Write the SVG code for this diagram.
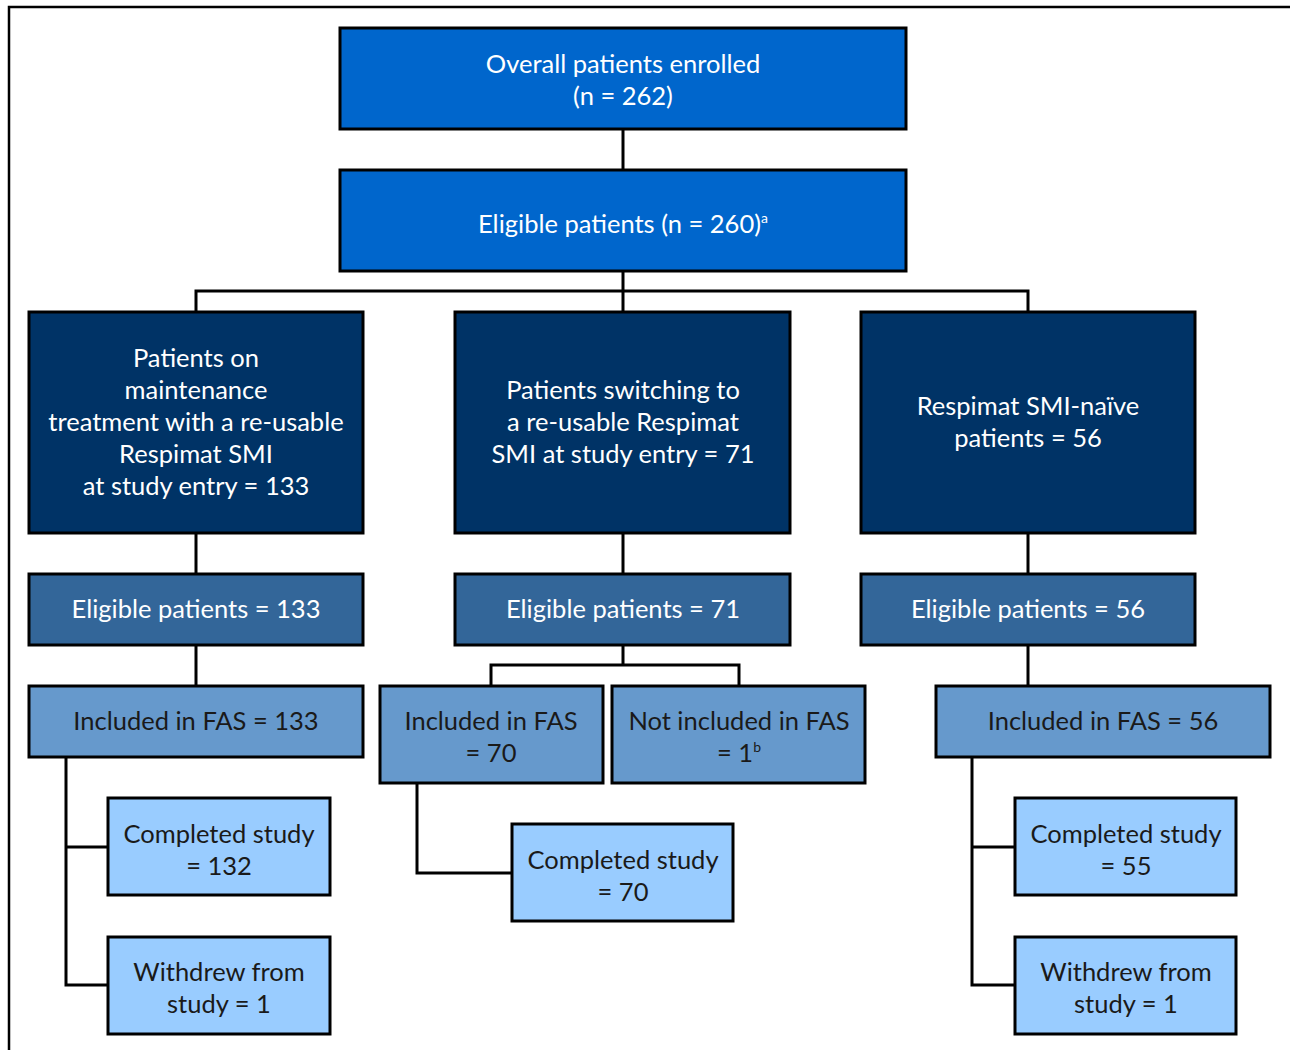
<svg xmlns="http://www.w3.org/2000/svg" width="1290" height="1050" viewBox="0 0 1290 1050">
<style>
rect.n{stroke:#000;stroke-width:3}
.c1{fill:#0066cc}.c2{fill:#003366}.c3{fill:#336699}.c4{fill:#6699cc}.c5{fill:#99ccff}
text{font-family:Lato,"Open Sans","Liberation Sans",sans-serif;font-size:25.5px;text-anchor:middle}
.w{fill:#ffffff}.k{fill:#1a1a1a}
#connectors path{fill:none;stroke:#000;stroke-width:3}
</style>
<rect x="0" y="0" width="1290" height="1050" fill="#fff"/>
<path d="M9,1050 V7 H1290" fill="none" stroke="#000" stroke-width="2.5"/>
<g id="connectors">
<path d="M623,129 V170"/>
<path d="M623,271 V312 M196,312 V291 H1028 V312"/>
<path d="M196,533 V574 M623,533 V574 M1028,533 V574"/>
<path d="M196,645 V686 M1028,645 V686"/>
<path d="M623,645 V665 M491,686 V665 H739 V686"/>
<path d="M66,757 V985 H108 M66,847 H108"/>
<path d="M417,783 V873 H512"/>
<path d="M972,757 V985 H1015 M972,847 H1015"/>
</g>
<g id="overall"><rect class="n c1" x="340" y="28" width="566" height="101"/>
<text class="w" x="623" y="73">Overall patients enrolled</text><text class="w" x="623" y="105">(n = 262)</text></g>
<g id="eligible260"><rect class="n c1" x="340" y="170" width="566" height="101"/>
<text class="w" x="623" y="233">Eligible patients (n = 260)<tspan font-size="14" dy="-10">a</tspan></text></g>
<g id="maintenance"><rect class="n c2" x="29" y="312" width="334" height="221"/>
<text class="w" x="196" y="367">Patients on</text><text class="w" x="196" y="399">maintenance</text><text class="w" x="196" y="431">treatment with a re-usable</text><text class="w" x="196" y="463">Respimat SMI</text><text class="w" x="196" y="495">at study entry = 133</text></g>
<g id="switching"><rect class="n c2" x="455" y="312" width="335" height="221"/>
<text class="w" x="623" y="399">Patients switching to</text><text class="w" x="623" y="431">a re-usable Respimat</text><text class="w" x="623" y="463">SMI at study entry = 71</text></g>
<g id="naive"><rect class="n c2" x="861" y="312" width="334" height="221"/>
<text class="w" x="1028" y="415">Respimat SMI-naïve</text><text class="w" x="1028" y="447">patients = 56</text></g>
<g id="elig133"><rect class="n c3" x="29" y="574" width="334" height="71"/><text class="w" x="196" y="618">Eligible patients = 133</text></g>
<g id="elig71"><rect class="n c3" x="455" y="574" width="335" height="71"/><text class="w" x="623" y="618">Eligible patients = 71</text></g>
<g id="elig56"><rect class="n c3" x="861" y="574" width="334" height="71"/><text class="w" x="1028" y="618">Eligible patients = 56</text></g>
<g id="fas133"><rect class="n c4" x="29" y="686" width="334" height="71"/><text class="k" x="196" y="730">Included in FAS = 133</text></g>
<g id="fas70"><rect class="n c4" x="380" y="686" width="223" height="97"/><text class="k" x="491" y="730">Included in FAS</text><text class="k" x="491" y="762">= 70</text></g>
<g id="notfas"><rect class="n c4" x="612" y="686" width="253" height="97"/><text class="k" x="739" y="730">Not included in FAS</text><text class="k" x="739" y="762">= 1<tspan font-size="14" dy="-10">b</tspan></text></g>
<g id="fas56"><rect class="n c4" x="936" y="686" width="334" height="71"/><text class="k" x="1103" y="730">Included in FAS = 56</text></g>
<g id="comp132"><rect class="n c5" x="108" y="798" width="222" height="97"/><text class="k" x="219" y="843">Completed study</text><text class="k" x="219" y="875">= 132</text></g>
<g id="wd1left"><rect class="n c5" x="108" y="937" width="222" height="97"/><text class="k" x="219" y="981">Withdrew from</text><text class="k" x="219" y="1013">study = 1</text></g>
<g id="comp70"><rect class="n c5" x="512" y="824" width="221" height="97"/><text class="k" x="623" y="869">Completed study</text><text class="k" x="623" y="901">= 70</text></g>
<g id="comp55"><rect class="n c5" x="1015" y="798" width="221" height="97"/><text class="k" x="1126" y="843">Completed study</text><text class="k" x="1126" y="875">= 55</text></g>
<g id="wd1right"><rect class="n c5" x="1015" y="937" width="221" height="97"/><text class="k" x="1126" y="981">Withdrew from</text><text class="k" x="1126" y="1013">study = 1</text></g>
</svg>
